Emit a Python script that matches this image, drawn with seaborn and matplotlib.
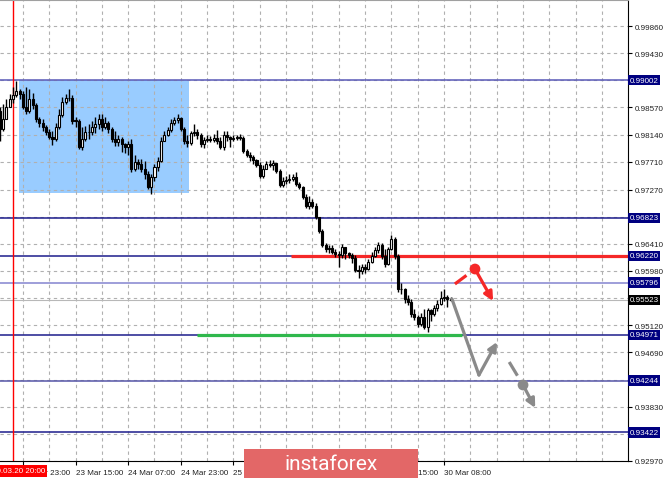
import numpy as np
import seaborn as sns
import matplotlib.pyplot as plt
from matplotlib.patches import Rectangle

# hourly candles, 20 Mar 16:00 .. 30 Mar 09:00
first_open = 0.9851
closes = [
    0.9823, 0.9839, 0.9858, 0.9870, 0.9877, 0.9883, 0.9878, 0.9858, 0.9851, 0.9870,
    0.9861, 0.9839, 0.9832, 0.9826, 0.9818, 0.9810, 0.9807, 0.9826, 0.9845, 0.9866,
    0.9872, 0.9872, 0.9836, 0.9836, 0.9794, 0.9807, 0.9818, 0.9818, 0.9826, 0.9831,
    0.9839, 0.9826, 0.9832, 0.9823, 0.9807, 0.9802, 0.9807, 0.9799, 0.9794, 0.9799,
    0.9760, 0.9771, 0.9767, 0.9760, 0.9752, 0.9731, 0.9747, 0.9763, 0.9772, 0.9804,
    0.9813, 0.9821, 0.9832, 0.9837, 0.9840, 0.9823, 0.9804, 0.9801, 0.9817, 0.9818,
    0.9813, 0.9799, 0.9805, 0.9807, 0.9805, 0.9809, 0.9804, 0.9794, 0.9813, 0.9810,
    0.9807, 0.9809, 0.9810, 0.9809, 0.9788, 0.9782, 0.9779, 0.9774, 0.9766, 0.9748,
    0.9760, 0.9767, 0.9766, 0.9769, 0.9756, 0.9734, 0.9741, 0.9742, 0.9744, 0.9747,
    0.9736, 0.9731, 0.9715, 0.9701, 0.9707, 0.9701, 0.9684, 0.9661, 0.9639, 0.9633,
    0.9634, 0.9628, 0.9625, 0.9623, 0.9636, 0.9626, 0.9623, 0.9619, 0.9600, 0.9598,
    0.9604, 0.9601, 0.9612, 0.9622, 0.9631, 0.9639, 0.9622, 0.9609, 0.9633, 0.9649,
    0.9622, 0.9569, 0.9569, 0.9554, 0.9549, 0.9530, 0.9525, 0.9514, 0.9525, 0.9509,
    0.9536, 0.9530, 0.9539, 0.9546, 0.9555, 0.9557, 0.9554, 0.9552]
highs = [
    0.9858, 0.9862, 0.9870, 0.9878, 0.9889, 0.9899, 0.9886, 0.9883, 0.9889, 0.9886,
    0.9880, 0.9864, 0.9842, 0.9839, 0.9829, 0.9823, 0.9820, 0.9832, 0.9855, 0.9874,
    0.9878, 0.9886, 0.9877, 0.9842, 0.9839, 0.9826, 0.9828, 0.9831, 0.9836, 0.9842,
    0.9847, 0.9847, 0.9842, 0.9836, 0.9826, 0.9820, 0.9813, 0.9810, 0.9801, 0.9804,
    0.9807, 0.9782, 0.9775, 0.9775, 0.9772, 0.9756, 0.9752, 0.9767, 0.9779, 0.9810,
    0.9820, 0.9826, 0.9839, 0.9842, 0.9847, 0.9842, 0.9826, 0.9813, 0.9820, 0.9831,
    0.9823, 0.9817, 0.9810, 0.9813, 0.9812, 0.9815, 0.9821, 0.9810, 0.9820, 0.9820,
    0.9812, 0.9813, 0.9813, 0.9815, 0.9812, 0.9791, 0.9786, 0.9782, 0.9775, 0.9771,
    0.9766, 0.9772, 0.9774, 0.9774, 0.9767, 0.9760, 0.9747, 0.9748, 0.9752, 0.9752,
    0.9755, 0.9739, 0.9733, 0.9720, 0.9717, 0.9712, 0.9706, 0.9684, 0.9664, 0.9642,
    0.9639, 0.9639, 0.9633, 0.9630, 0.9641, 0.9633, 0.9628, 0.9626, 0.9623, 0.9607,
    0.9609, 0.9609, 0.9617, 0.9628, 0.9636, 0.9644, 0.9642, 0.9633, 0.9636, 0.9655,
    0.9652, 0.9625, 0.9579, 0.9571, 0.9560, 0.9554, 0.9538, 0.9528, 0.9531, 0.9538,
    0.9539, 0.9538, 0.9544, 0.9552, 0.9566, 0.9569, 0.9560, 0.9557]
lows = [
    0.9804, 0.9820, 0.9847, 0.9858, 0.9864, 0.9874, 0.9870, 0.9855, 0.9847, 0.9848,
    0.9855, 0.9834, 0.9826, 0.9820, 0.9813, 0.9807, 0.9798, 0.9804, 0.9823, 0.9842,
    0.9862, 0.9867, 0.9831, 0.9826, 0.9791, 0.9790, 0.9804, 0.9807, 0.9813, 0.9817,
    0.9823, 0.9820, 0.9823, 0.9817, 0.9802, 0.9796, 0.9796, 0.9786, 0.9785, 0.9782,
    0.9755, 0.9756, 0.9760, 0.9755, 0.9744, 0.9728, 0.9720, 0.9741, 0.9756, 0.9771,
    0.9804, 0.9812, 0.9818, 0.9829, 0.9832, 0.9820, 0.9799, 0.9794, 0.9798, 0.9812,
    0.9807, 0.9794, 0.9793, 0.9802, 0.9802, 0.9802, 0.9799, 0.9791, 0.9790, 0.9804,
    0.9794, 0.9804, 0.9805, 0.9805, 0.9785, 0.9779, 0.9772, 0.9767, 0.9763, 0.9745,
    0.9745, 0.9760, 0.9763, 0.9758, 0.9753, 0.9731, 0.9731, 0.9736, 0.9737, 0.9741,
    0.9733, 0.9728, 0.9712, 0.9698, 0.9696, 0.9698, 0.9680, 0.9658, 0.9636, 0.9628,
    0.9626, 0.9625, 0.9620, 0.9604, 0.9619, 0.9617, 0.9619, 0.9611, 0.9596, 0.9587,
    0.9593, 0.9595, 0.9600, 0.9611, 0.9620, 0.9626, 0.9617, 0.9604, 0.9607, 0.9631,
    0.9617, 0.9565, 0.9562, 0.9547, 0.9544, 0.9525, 0.9520, 0.9509, 0.9511, 0.9506,
    0.9501, 0.9519, 0.9527, 0.9535, 0.9544, 0.9550, 0.9541, 0.9550]

time_ticks = [7, 23, 39, 55, 71, 87, 103, 119, 135]
time_labels = ["20 Mar 23:00", "23 Mar 15:00", "24 Mar 07:00", "24 Mar 23:00",
               "25 Mar 15:00", "26 Mar 07:00", "26 Mar 23:00", "27 Mar 15:00",
               "30 Mar 08:00"]
price_ticks = [0.99860, 0.99430, 0.98570, 0.98140, 0.97710, 0.97270, 0.96410,
               0.95980, 0.95120, 0.94690, 0.93830, 0.92970]
hidden_grid = [0.99000, 0.96840, 0.95550, 0.94260, 0.93400]

levels = [0.99002, 0.96823, 0.96220, 0.95796, 0.94971, 0.94244, 0.93422]
level_colors = ["#5a5ab8", "#1c1c8c", "#1c1c8c", "#8484d0", "#1c1c8c", "#5656a8", "#1c1c8c"]
last_price = 0.95523

box_x = [5.8, 57.5]
box_y = [0.97215, 0.99002]
resist_x = [88.5, 191]
resist_y = 0.96220
support_x = [59.9, 140.5]
support_y = 0.94971

red_dash_x, red_dash_y = [138.3, 144.4], [0.95774, 0.96011]
red_arrow_x, red_arrow_y = [144.4, 149.9], [0.96011, 0.95504]
gray_x, gray_y = [137.4, 145.6], [0.95536, 0.94332]
gray_up_x, gray_up_y = [145.6, 151.1], [0.94332, 0.94855]
gray_dash_x, gray_dash_y = [154.8, 159.0], [0.94538, 0.94174]
gray_arrow_x, gray_arrow_y = [159.0, 162.7], [0.94174, 0.93810]

sns.set_style("white")
plt.rcParams['font.family'] = ['Liberation Sans', 'DejaVu Sans']

fig = plt.figure(figsize=(6.65, 4.81), dpi=100)
ax = fig.add_axes([0, 19 / 481, 628 / 665, 461 / 481])
ax.set_xlim(0.05, 190.9)
ax.set_ylim(0.92970, 1.00272)

# background rectangle and grid
ax.add_patch(Rectangle((box_x[0], box_y[0]), box_x[1] - box_x[0], box_y[1] - box_y[0],
                       facecolor="#99ccff", edgecolor="none", zorder=0.5))
for gx in np.arange(7, 191, 8):
    ax.axvline(gx, color="#b0b0b0", lw=0.8, ls=(0, (3, 3)), zorder=1)
for gy in price_ticks + hidden_grid:
    ax.axhline(gy, color="#b0b0b0", lw=0.8, ls=(0, (3, 3)), zorder=1)

# level lines
for lv, col in zip(levels, level_colors):
    ax.axhline(lv, color=col, lw=1.1, zorder=2)
ax.axhline(last_price, color="#b8b8b8", lw=0.8, zorder=2)
ax.plot(resist_x, [resist_y] * 2, color="#f52828", lw=2.3, zorder=2.5, solid_capstyle="butt")
ax.plot(support_x, [support_y] * 2, color="#2fb84c", lw=2.3, zorder=2.5, solid_capstyle="butt")
ax.axvline(4, color="#ff0000", lw=1, zorder=2)

# candles
idx = np.arange(len(closes))
c = np.array(closes)
o = np.array([first_open] + closes[:-1])
h = np.maximum(np.array(highs), np.maximum(o, c))
l = np.minimum(np.array(lows), np.minimum(o, c))
ax.vlines(idx, l, h, color="black", lw=1.0, zorder=3)
body = np.maximum(np.abs(c - o), 0.00006)
bull = c > o
ax.bar(idx[bull], body[bull], bottom=o[bull], width=0.62, color="white",
       edgecolor="black", linewidth=0.8, zorder=4)
ax.bar(idx[~bull], body[~bull], bottom=c[~bull], width=0.62, color="black",
       edgecolor="black", linewidth=0.8, zorder=4)

# forecast paths
sns.lineplot(x=red_dash_x, y=red_dash_y, ax=ax, color="#f52828", lw=2.3,
             linestyle=(0, (4.5, 4)), zorder=5)
sns.lineplot(x=gray_x, y=gray_y, ax=ax, color="#8a8a8a", lw=2.3, zorder=5)
sns.lineplot(x=gray_dash_x, y=gray_dash_y, ax=ax, color="#8a8a8a", lw=2.3,
             linestyle=(0, (5, 4)), zorder=5)
for xs, ys, col in [(red_arrow_x, red_arrow_y, "#f52828"),
                    (gray_up_x, gray_up_y, "#8a8a8a"),
                    (gray_arrow_x, gray_arrow_y, "#8a8a8a")]:
    ax.annotate("", xy=(xs[1], ys[1]), xytext=(xs[0], ys[0]), zorder=5,
                arrowprops=dict(arrowstyle="-|>", color=col, lw=2.3,
                                mutation_scale=13, shrinkA=0, shrinkB=0))
sns.scatterplot(x=[red_dash_x[1]], y=[red_dash_y[1]], ax=ax, color="#f52828",
                s=60, edgecolor="none", zorder=6)
sns.scatterplot(x=[gray_dash_x[1]], y=[gray_dash_y[1]], ax=ax, color="#8a8a8a",
                s=60, edgecolor="none", zorder=6)

# axes look
ax.spines["left"].set_visible(False)
ax.spines["top"].set_color("#a0a0a0")
ax.spines["right"].set_color("black")
ax.spines["bottom"].set_color("black")
ax.yaxis.tick_right()
ax.set_yticks(price_ticks)
ax.set_yticklabels([f"{p:.5f}" for p in price_ticks])
ax.set_xticks(time_ticks)
ax.set_xticklabels(time_labels, ha="left")
ax.tick_params(axis="y", length=3, width=0.8, pad=2, labelsize=5.8,
               labelcolor="#202020", color="black", right=True)
ax.tick_params(axis="x", length=3, width=0.8, pad=2.5, labelsize=5.8,
               labelcolor="#202020", color="black", bottom=True)

lab_tr = ax.get_yaxis_transform()
for lv in levels:
    ax.text(1.002, lv, f"{lv:.5f}", transform=lab_tr, ha="left", va="center",
            fontsize=5.8, color="white", clip_on=False, zorder=7,
            bbox=dict(boxstyle="square,pad=0.2", fc="#000080", ec="none"))
ax.text(1.002, last_price, f"{last_price:.5f}", transform=lab_tr, ha="left", va="center",
        fontsize=5.8, color="white", clip_on=False, zorder=7,
        bbox=dict(boxstyle="square,pad=0.2", fc="black", ec="none"))

# cursor date and watermark
fig.text(45 / 665, 9 / 481, "20.03.20 20:00", ha="right", va="center", fontsize=5.8,
         color="white", zorder=8,
         bbox=dict(boxstyle="square,pad=0.3", fc="#ff0000", ec="none"))
fig.patches.append(Rectangle((244 / 665, 2 / 481), 174 / 665, 29 / 481,
                             transform=fig.transFigure, facecolor="#e36767",
                             edgecolor="none", zorder=9))
fig.text(331 / 665, 16 / 481, "instaforex", ha="center", va="center", fontsize=15,
         color="white", family="Roboto", zorder=10)

fig.savefig("out.png", dpi=100)
